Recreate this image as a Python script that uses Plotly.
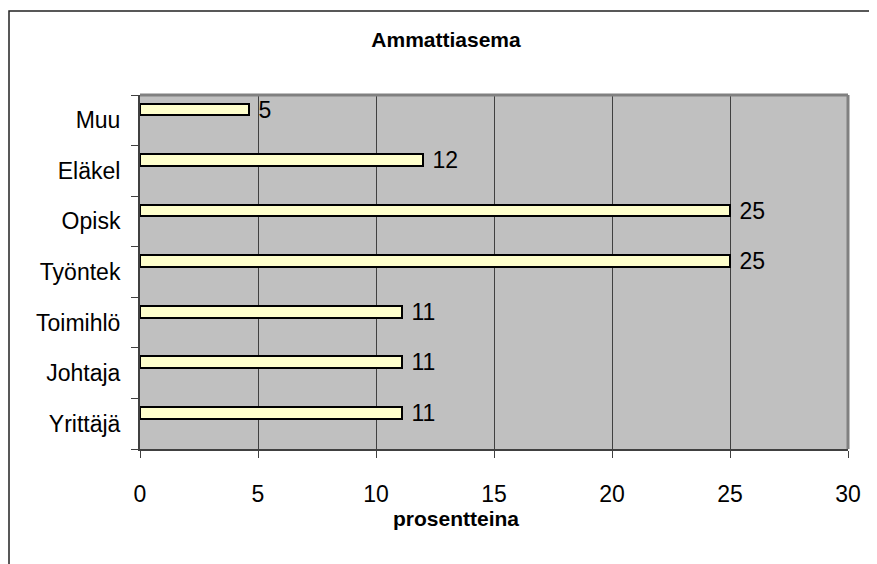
import plotly.graph_objects as go

categories = ["Yrittäjä", "Johtaja", "Toimihlö", "Työntek", "Opisk", "Eläkel", "Muu"]
values = [11.1, 11.1, 11.1, 25.0, 25.0, 12.0, 4.6]
labels = ["11", "11", "11", "25", "25", "12", "5"]
x_ticks = [0, 5, 10, 15, 20, 25, 30]

FONT = "Liberation Sans, Arial, sans-serif"

# the page places the figure 8px from the top-left corner, so the figure is 8px smaller
W, H = 869, 556
L, T, R, B = 132, 87, 29, 115
PW, PH = W - L - R, H - T - B

fig = go.Figure()
fig.add_trace(go.Bar(
    y=categories,
    x=values,
    orientation="h",
    width=0.23,
    offset=0.1,
    marker=dict(color="#FFFFCC", line=dict(color="#000000", width=2)),
    text=["\u00a0" + t for t in labels],
    textposition="outside",
    constraintext="none",
    cliponaxis=False,
    textfont=dict(family=FONT, size=23, color="#000000"),
    hoverinfo="skip",
))

fig.update_layout(
    width=W,
    height=H,
    margin=dict(l=L, r=R, t=T, b=B),
    paper_bgcolor="#FFFFFF",
    plot_bgcolor="#C0C0C0",
    showlegend=False,
    bargap=0,
    font=dict(family=FONT, size=23, color="#000000"),
    title=dict(
        text="<b>Ammattiasema</b>",
        x=438 / W,
        xanchor="center",
        xref="container",
        y=1 - 32 / H,
        yanchor="middle",
        font=dict(family=FONT, size=21, color="#000000"),
    ),
    xaxis=dict(
        range=[0, 30],
        tickvals=x_ticks,
        ticktext=[str(v) for v in x_ticks],
        showgrid=True,
        gridcolor="#404040",
        gridwidth=1,
        zeroline=False,
        showline=True,
        linecolor="#404040",
        linewidth=2,
        ticks="outside",
        ticklen=7,
        tickcolor="#404040",
        tickwidth=1,
        ticklabelstandoff=16,
        tickfont=dict(family=FONT, size=23, color="#000000"),
        fixedrange=True,
    ),
    yaxis=dict(
        type="category",
        categoryorder="array",
        categoryarray=categories,
        range=[-0.5, len(categories) - 0.5],
        showgrid=False,
        zeroline=False,
        showline=True,
        linecolor="#404040",
        linewidth=2,
        ticks="outside",
        tickson="boundaries",
        ticklen=7,
        tickcolor="#404040",
        tickwidth=1,
        ticklabelstandoff=13,
        tickfont=dict(family=FONT, size=23, color="#000000"),
        fixedrange=True,
    ),
)

# plot-area border on top and right
fig.add_shape(type="line", xref="x domain", yref="y domain", x0=0, x1=1, y0=1, y1=1,
              line=dict(color="#808080", width=3), layer="above")
fig.add_shape(type="line", xref="x domain", yref="y domain", x0=1, x1=1, y0=0, y1=1,
              line=dict(color="#808080", width=3), layer="above")

# outer chart frame (cropped at right and bottom)
fig.add_shape(type="rect", xref="paper", yref="paper",
              x0=(1 - L) / PW, x1=(W + 20 - L) / PW,
              y0=(T + PH - (H + 20)) / PH, y1=(T + PH - 3) / PH,
              line=dict(color="#222222", width=1.5), fillcolor="rgba(0,0,0,0)", layer="below")

fig.add_annotation(
    text="<b>prosentteina</b>",
    xref="paper", yref="paper",
    x=(448 - L) / PW, y=(T + PH - 510) / PH,
    xanchor="center", yanchor="middle",
    showarrow=False,
    font=dict(family=FONT, size=21, color="#000000"),
)

fig.write_html("out.html")
